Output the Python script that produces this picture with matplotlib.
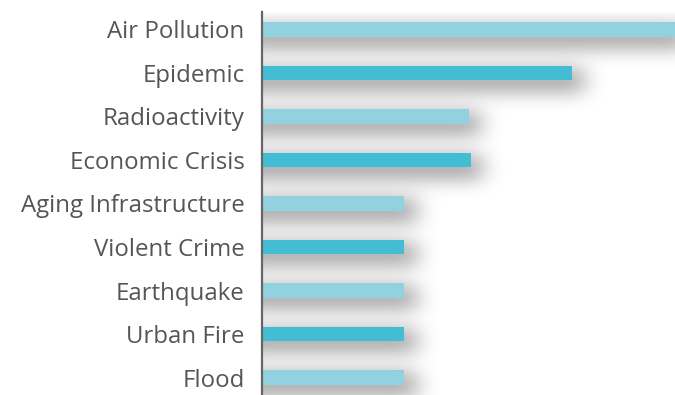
import numpy as np
import matplotlib.pyplot as plt

categories = ["Air Pollution", "Epidemic", "Radioactivity", "Economic Crisis",
              "Aging Infrastructure", "Violent Crime", "Earthquake", "Urban Fire", "Flood"]
values = [20, 15, 10, 10.1, 6.9, 6.9, 6.9, 6.9, 6.9]
colors = ["#92d1e0", "#43bdd3"] * 5


def blur(a, sigma, axis):
    r = int(sigma * 3) + 1
    k = np.exp(-0.5 * (np.arange(-r, r + 1) / sigma) ** 2)
    k /= k.sum()
    return np.apply_along_axis(lambda m: np.convolve(m, k, mode="same"), axis, a)


fig = plt.figure(figsize=(6.75, 3.95), dpi=100)
ax = fig.add_axes([262 / 675, 0, 413 / 675, 383 / 395])

xmax = 20
ylo, yhi = -0.4, 8.4
ypos = np.arange(len(categories))

# soft drop shadow under the bars
nx_, ny_ = 600, 500
x0, x1 = -2, xmax + 2
y0, y1 = ylo - 1, yhi + 1
xs = np.linspace(x0, x1, nx_)
ys = np.linspace(y0, y1, ny_)
X, Y = np.meshgrid(xs, ys)
S = np.zeros_like(X)
for y, v in zip(ypos, values):
    S[(Y > y - 0.12) & (Y < y + 0.45) & (X < v + 0.6) & (X > -1)] = 1
px_x = (x1 - x0) / nx_ * 20.65
px_y = (y1 - y0) / ny_ * 43.6
S = blur(S, 11 / px_x, 1)
S = blur(S, 9 / px_y, 0)
img = np.zeros(S.shape + (4,))
img[..., 3] = np.clip(S, 0, 1) * 0.34
ax.imshow(img, extent=(x0, x1, y1, y0), aspect="auto", zorder=1,
          interpolation="bilinear")

ax.barh(ypos, values, height=0.34, color=colors[:len(values)], zorder=3)

ax.set_xlim(0, xmax)
ax.set_ylim(yhi, ylo)
ax.set_yticks(ypos)
ax.set_yticklabels(categories, fontsize=17.3, color="#555555", family="Open Sans")
ax.tick_params(axis="y", length=0, pad=12.5)
ax.set_xticks([])
for s in ["top", "right", "bottom"]:
    ax.spines[s].set_visible(False)
ax.spines["left"].set_color("#666666")
ax.spines["left"].set_linewidth(1.6)
ax.spines["left"].set_zorder(5)

fig.savefig("out.png", dpi=100)
